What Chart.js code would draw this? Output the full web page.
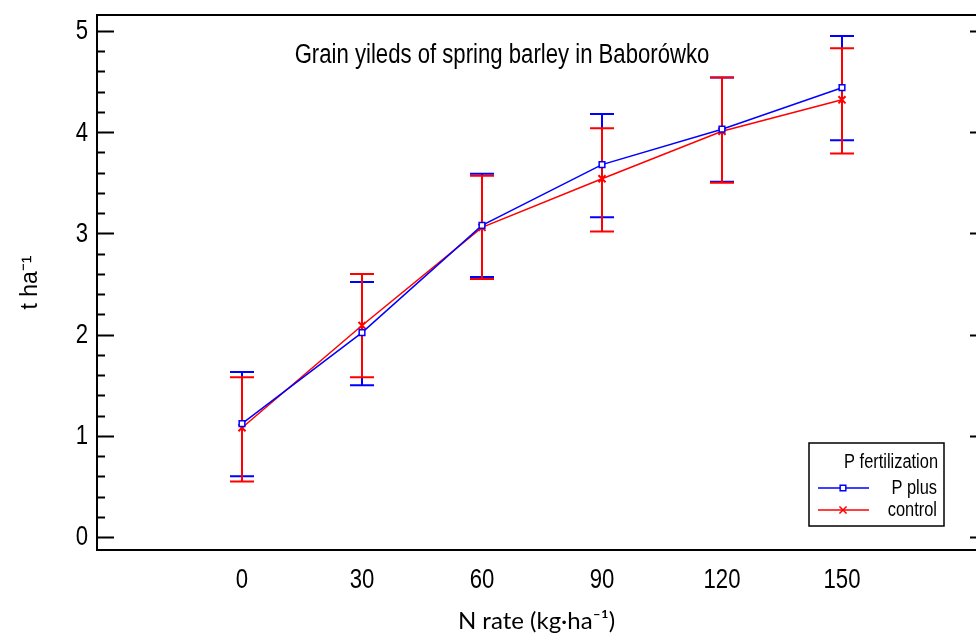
<!DOCTYPE html>
<html>
<head>
<meta charset="utf-8">
<script src="https://cdn.jsdelivr.net/npm/chart.js@4/dist/chart.umd.min.js"></script>
<style>
  html, body { margin: 0; padding: 0; background: #fff; }
  #wrap { width: 976px; height: 637px; position: relative; }
</style>
</head>
<body>
<div id="wrap"><canvas id="c"></canvas></div>
<script>
// N rates and yields
const nRates = [0, 30, 60, 90, 120, 150];
const pPlus = [1.12, 2.02, 3.08, 3.68, 4.03, 4.44];
const pPlusLow = [0.60, 1.50, 2.57, 3.16, 3.51, 3.92];
const pPlusHigh = [1.63, 2.52, 3.59, 4.18, 4.54, 4.95];
const control = [1.08, 2.09, 3.06, 3.54, 4.01, 4.32];
const controlLow = [0.55, 1.58, 2.55, 3.02, 3.50, 3.79];
const controlHigh = [1.58, 2.60, 3.57, 4.04, 4.54, 4.83];
const yTicks = [0, 1, 2, 3, 4, 5];

const BLUE = '#0000ff';
const RED = '#ff0000';
const sans = '"Liberation Sans", Arial, sans-serif';
const SQUEEZE = 0.82; // no narrow font installed, squeeze Liberation Sans instead

function narrowText(ctx, text, x, y, size, align) {
    ctx.save();
    ctx.font = size + 'px ' + sans;
    ctx.textAlign = align;
    ctx.translate(x, y);
    ctx.scale(SQUEEZE, 1);
    ctx.fillText(text, 0, 0);
    ctx.restore();
}

// error bars, frame, inward ticks, tick labels and legend
const decor = {
    id: 'decor',
    beforeDatasetsDraw(chart) {
        const ctx = chart.ctx;
        const x = chart.scales.x, y = chart.scales.y;
        chart.data.datasets.forEach(ds => {
            ctx.save();
            ctx.strokeStyle = ds.borderColor;
            ctx.lineWidth = 2;
            ds.data.forEach((p, i) => {
                const px = x.getPixelForValue(p.x);
                const lo = y.getPixelForValue(ds.low[i]);
                const hi = y.getPixelForValue(ds.high[i]);
                ctx.beginPath();
                ctx.moveTo(px, lo); ctx.lineTo(px, hi);
                ctx.moveTo(px - 12, lo); ctx.lineTo(px + 12, lo);
                ctx.moveTo(px - 12, hi); ctx.lineTo(px + 12, hi);
                ctx.stroke();
            });
            ctx.restore();
        });
    },
    afterDraw(chart) {
        const ctx = chart.ctx;
        const a = chart.chartArea;
        const x = chart.scales.x, y = chart.scales.y;
        ctx.save();
        ctx.strokeStyle = '#000';
        ctx.lineWidth = 2;
        ctx.beginPath();
        ctx.moveTo(a.right + 2, a.top);
        ctx.lineTo(a.left, a.top);
        ctx.lineTo(a.left, a.bottom);
        ctx.lineTo(a.right + 2, a.bottom);
        ctx.stroke();
        // left: majors + minors (0.2), right: majors only
        ctx.beginPath();
        for (let v = 0; v <= 5.001; v += 0.2) {
            const py = Math.round(y.getPixelForValue(v)) + 0.5;
            const major = Math.abs(v - Math.round(v)) < 0.01;
            ctx.moveTo(a.left, py);
            ctx.lineTo(a.left + (major ? 17 : 8), py);
            if (major) {
                ctx.moveTo(a.right, py);
                ctx.lineTo(a.right - 6, py);
            }
        }
        ctx.stroke();

        // tick labels
        ctx.fillStyle = '#000';
        ctx.textBaseline = 'middle';
        yTicks.forEach(v => narrowText(ctx, String(v), a.left - 9, y.getPixelForValue(v) + 1, 27, 'right'));
        ctx.textBaseline = 'alphabetic';
        nRates.forEach(v => narrowText(ctx, String(v), x.getPixelForValue(v), 588, 27, 'center'));

        // legend box
        const bx = 809, by = 443, bw = 135, bh = 83;
        ctx.lineWidth = 1.5;
        ctx.fillStyle = '#fff';
        ctx.fillRect(bx, by, bw, bh);
        ctx.strokeRect(bx, by, bw, bh);
        ctx.fillStyle = '#000';
        ctx.textBaseline = 'middle';
        narrowText(ctx, 'P fertilization', bx + bw - 6, by + 19, 20, 'right');
        chart.data.datasets.forEach((ds, i) => {
            const ly = by + 45 + i * 22;
            ctx.strokeStyle = ds.borderColor;
            ctx.fillStyle = '#fff';
            ctx.lineWidth = 1.5;
            ctx.beginPath();
            ctx.moveTo(bx + 9, ly); ctx.lineTo(bx + 60, ly);
            ctx.stroke();
            Chart.helpers.drawPoint(ctx, {
                pointStyle: ds.pointStyle, radius: ds.pointRadius,
                borderWidth: ds.pointBorderWidth, rotation: 0
            }, bx + 34, ly);
            ctx.fillStyle = '#000';
            narrowText(ctx, ds.label, bx + bw - 7, ly, 20, 'right');
        });

        // chart title inside the plot
        ctx.textBaseline = 'middle';
        narrowText(ctx, 'Grain yileds of spring barley in Baborówko', 502, 56, 27, 'center');
        ctx.restore();
    }
};

new Chart(document.getElementById('c'), {
    type: 'line',
    data: {
        datasets: [
            {
                label: 'P plus',
                data: nRates.map((n, i) => ({ x: n, y: pPlus[i] })),
                low: pPlusLow, high: pPlusHigh,
                borderColor: BLUE, backgroundColor: '#fff',
                borderWidth: 1.5, pointStyle: 'rect', pointRadius: 4,
                pointBorderWidth: 1.5, pointBackgroundColor: '#fff',
                tension: 0
            },
            {
                label: 'control',
                data: nRates.map((n, i) => ({ x: n, y: control[i] })),
                low: controlLow, high: controlHigh,
                borderColor: RED, backgroundColor: RED,
                borderWidth: 1.5, pointStyle: 'crossRot', pointRadius: 5,
                pointBorderWidth: 2, tension: 0
            }
        ]
    },
    options: {
        responsive: true,
        maintainAspectRatio: false,
        animation: false,
        layout: { autoPadding: false, padding: { top: 15, right: 0, left: 0, bottom: 0 } },
        plugins: { legend: { display: false }, tooltip: { enabled: false } },
        scales: {
            x: {
                type: 'linear',
                min: -36.25, max: 183.5,
                afterBuildTicks: s => { s.ticks = nRates.map(v => ({ value: v })); },
                afterFit: s => { s.height = 87; },
                grid: { display: false, drawTicks: false },
                border: { display: false },
                ticks: { display: false },
                title: {
                    display: true, text: 'N rate (kg·ha⁻¹)', color: '#000',
                    font: { family: 'Lato, "Open Sans", sans-serif', size: 24 },
                    padding: { top: 0, bottom: 1 }
                }
            },
            y: {
                min: -0.128, max: 5.158,
                afterBuildTicks: s => { s.ticks = yTicks.map(v => ({ value: v })); },
                afterFit: s => { s.width = 97; },
                grid: { display: false, drawTicks: false },
                border: { display: false },
                ticks: { display: false },
                title: {
                    display: true, text: 't ha⁻¹', color: '#000',
                    font: { family: sans, size: 23 },
                    padding: { top: 17, bottom: 0 }
                }
            }
        }
    },
    plugins: [decor]
});
</script>
</body>
</html>
